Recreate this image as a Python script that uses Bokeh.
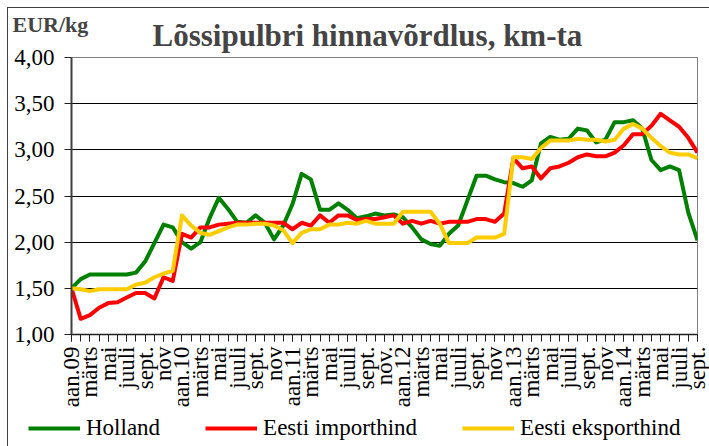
from math import pi
from bokeh.plotting import figure
from bokeh.layouts import column
from bokeh.models import (Range1d, FixedTicker, CustomJSTickFormatter, Legend,
                          LegendItem, Title)
from bokeh.embed import file_html
from bokeh.resources import INLINE

# ---- data -------------------------------------------------------------
tick_labels = ["aan.09", "märts", "mai", "juuli", "sept.", "nov",
               "aan.10", "märts", "mai", "juuli", "sept.", "nov",
               "aan.11", "märts", "mai", "juuli", "sept.", "nov.",
               "aan.12", "märts", "mai", "juuli", "sept.", "nov",
               "aan.13", "märts", "mai", "juuli", "sept.", "nov",
               "aan.14", "märts", "mai", "juuli", "sept."]

holland = [1.50, 1.60, 1.65, 1.65, 1.65, 1.65, 1.65, 1.67, 1.79, 1.99,
           2.19, 2.16, 2.00, 1.93, 2.00, 2.26, 2.48, 2.36, 2.22, 2.21,
           2.29, 2.21, 2.03, 2.18, 2.41, 2.74, 2.68, 2.35, 2.35, 2.42,
           2.35, 2.26, 2.28, 2.31, 2.29, 2.30, 2.27, 2.16, 2.03, 1.98,
           1.96, 2.09, 2.18, 2.45, 2.72, 2.72, 2.68, 2.65, 2.64, 2.60,
           2.67, 3.07, 3.14, 3.11, 3.12, 3.23, 3.21, 3.08, 3.11, 3.30,
           3.30, 3.32, 3.23, 2.89, 2.78, 2.82, 2.78, 2.32, 2.02]

eesti_import = [1.50, 1.17, 1.21, 1.29, 1.34, 1.35, 1.40, 1.45, 1.45, 1.39,
                1.62, 1.58, 2.09, 2.05, 2.16, 2.16, 2.19, 2.20, 2.21, 2.21,
                2.21, 2.21, 2.21, 2.21, 2.14, 2.21, 2.18, 2.29, 2.21, 2.29,
                2.29, 2.24, 2.25, 2.25, 2.27, 2.29, 2.20, 2.23, 2.20, 2.23,
                2.20, 2.22, 2.22, 2.22, 2.25, 2.25, 2.22, 2.31, 2.91, 2.80,
                2.82, 2.69, 2.80, 2.82, 2.86, 2.92, 2.95, 2.93, 2.93, 2.97,
                3.05, 3.17, 3.17, 3.26, 3.39, 3.32, 3.25, 3.13, 2.97]

eesti_eksport = [1.50, 1.49, 1.47, 1.49, 1.49, 1.49, 1.49, 1.54, 1.56, 1.62,
                 1.66, 1.69, 2.29, 2.18, 2.10, 2.08, 2.12, 2.16, 2.19, 2.19,
                 2.20, 2.20, 2.18, 2.13, 1.99, 2.10, 2.14, 2.14, 2.19, 2.19,
                 2.21, 2.20, 2.23, 2.20, 2.20, 2.20, 2.33, 2.33, 2.33, 2.33,
                 2.20, 1.99, 1.99, 1.99, 2.05, 2.05, 2.05, 2.09, 2.92, 2.92,
                 2.90, 3.02, 3.10, 3.10, 3.10, 3.12, 3.11, 3.11, 3.09, 3.11,
                 3.23, 3.28, 3.23, 3.13, 3.04, 2.97, 2.95, 2.95, 2.91]

y_ticks = [1.0, 1.5, 2.0, 2.5, 3.0, 3.5, 4.0]
series_names = ["Holland", "Eesti importhind", "Eesti eksporthind"]
series_colors = ["#008000", "#FF0000", "#FFCC00"]
title_text = "Lõssipulbri hinnavõrdlus, km-ta"
unit_text = "EUR/kg"

# ---- main figure ------------------------------------------------------
n = len(holland)
xs = list(range(n))
series = [holland, eesti_import, eesti_eksport]
FONT = "Liberation Serif"

p = figure(width=701, height=402, output_backend="svg", toolbar_location=None,
           x_range=Range1d(0, n - 1), y_range=Range1d(1, 4),
           min_border_left=63, min_border_right=12, min_border_top=49,
           min_border_bottom=76)
p.frame_align = False
p.background_fill_color = "white"
p.border_fill_color = "white"
p.outline_line_color = "#808080"
p.outline_line_width = 1

main_title = Title(text=title_text, text_font=FONT, text_font_size="31px",
                   text_font_style="bold", align="left", offset=81, standoff=10)
unit_title = Title(text=unit_text, text_font=FONT, text_font_size="22px",
                   text_font_style="bold", align="left", offset=-59, standoff=-52)
p.add_layout(main_title, "above")
p.add_layout(unit_title, "above")

# axes
p.xaxis.ticker = FixedTicker(ticks=list(range(0, n, 2)), minor_ticks=xs)
p.xaxis.formatter = CustomJSTickFormatter(
    args=dict(labels=tick_labels),
    code="const i = Math.round(tick / 2); return (labels[i] !== undefined) ? labels[i] : '';")
p.xaxis.major_label_orientation = pi / 2
p.xaxis.major_tick_out = 7
p.xaxis.major_tick_in = 0
p.xaxis.minor_tick_out = 7
p.xaxis.minor_tick_in = 0
p.xaxis.minor_tick_line_color = "#202020"
p.xaxis.major_tick_line_color = "#202020"
p.xaxis.axis_line_color = "#202020"
p.xaxis.axis_line_width = 1.5
p.xaxis.major_label_standoff = 5

p.yaxis.ticker = FixedTicker(ticks=y_ticks)
p.yaxis.formatter = CustomJSTickFormatter(
    code="return tick.toFixed(2).replace('.', ',');")
p.yaxis.major_tick_out = 7
p.yaxis.major_tick_in = 0
p.yaxis.minor_tick_line_color = None
p.yaxis.major_tick_line_color = "#202020"
p.yaxis.axis_line_color = "#404040"
p.yaxis.axis_line_width = 2
p.yaxis.major_label_standoff = 10

for ax in (p.xaxis[0], p.yaxis[0]):
    ax.major_label_text_font = FONT
    ax.major_label_text_font_size = "23px"
    ax.major_label_text_color = "black"

p.xgrid.visible = False
p.ygrid.grid_line_color = "black"
p.ygrid.grid_line_width = 1

for ys, col in zip(series, series_colors):
    p.line(xs, ys, line_color=col, line_width=4, line_join="round")

# ---- legend strip (same series, drawn out of view; only the legend shows)
lf = figure(width=701, height=36, output_backend="svg", toolbar_location=None,
            x_range=Range1d(0, n - 1), y_range=Range1d(100, 101),
            x_axis_location=None, y_axis_location=None,
            min_border_left=0, min_border_right=0, min_border_top=0,
            min_border_bottom=0)
lf.frame_align = False
lf.outline_line_color = None
lf.xgrid.visible = False
lf.ygrid.visible = False
lf.background_fill_color = "white"
lf.border_fill_color = "white"

items = []
for nm, ys, col in zip(series_names, series, series_colors):
    r = lf.line(xs, ys, line_color=col, line_width=4)
    items.append(LegendItem(label=nm, renderers=[r]))

legend = Legend(items=items, location=(20, 5), orientation="horizontal",
                padding=0, margin=0, spacing=45, label_width=74,
                border_line_color=None, background_fill_alpha=0,
                glyph_width=52, glyph_height=26, label_height=26,
                label_standoff=6, label_text_font=FONT,
                label_text_font_size="23px", label_text_color="black")
lf.add_layout(legend)

layout = column(p, lf, spacing=0)
layout.styles = {"margin-left": "7px", "margin-top": "7px",
                 "border-left": "1px solid #404040",
                 "border-top": "1px solid #404040"}

open("out.html", "w").write(file_html(layout, INLINE))
